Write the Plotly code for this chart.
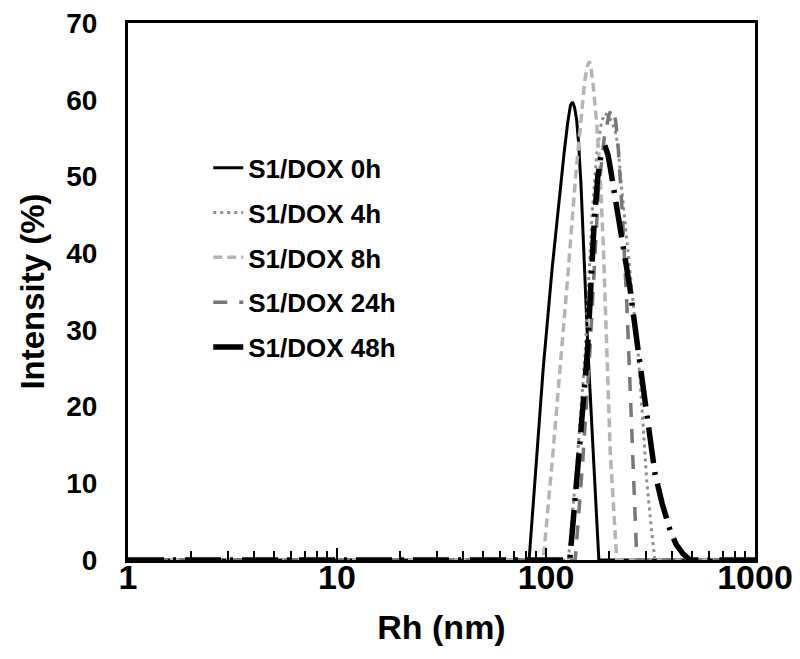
import plotly.graph_objects as go

# hydrodynamic radius (nm) and intensity (%)
size_0h = [1, 83, 90, 97, 107, 117, 122, 127, 131, 134, 137, 140, 143, 147, 153, 159, 169, 179, 1000]
int_0h = [0, 0, 13, 25, 38, 48.5, 53, 57, 59.3, 59.7, 59, 57.5, 54.6, 49, 38, 27, 13, 0, 0]

size_4h = [1, 128, 141, 154, 166, 175, 184, 191, 198, 206, 214, 221, 230, 245, 261, 276, 290, 303, 318, 332, 1000]
int_4h = [0, 0, 13, 27, 45, 53, 57, 58.2, 58, 57.2, 56, 54, 48.5, 41, 33.4, 27, 18.5, 10.5, 4.5, 0, 0]

size_8h = [1, 97, 108, 119, 128, 138, 148, 153, 157, 161, 164, 168, 174, 181, 188, 195, 203, 218, 1000]
int_8h = [0, 0, 14, 27.3, 38, 49.4, 59, 62.3, 64.2, 65, 64.3, 62, 57.5, 51, 41, 29, 14, 0, 0]

size_24h = [1, 138, 150, 162, 178, 190, 200, 206, 211, 216, 222, 232, 244, 256, 264, 272, 1000]
int_24h = [0, 0, 13, 27, 48, 55, 58, 58.8, 58.5, 57, 53.5, 45, 33, 18, 9, 0, 0]

size_48h = [1, 130, 144, 158, 170, 177, 183, 188, 193, 198, 204, 214, 226, 252, 276, 304, 332, 360, 392, 420, 453, 489, 1000]
int_48h = [0, 0, 14, 27.3, 44, 50, 52.6, 53.6, 53.7, 52.8, 50.8, 47.5, 43.3, 35.5, 27.3, 19, 11.3, 7.3, 3.9, 2, 0.8, 0, 0]

labels = ["S1/DOX 0h", "S1/DOX 4h", "S1/DOX 8h", "S1/DOX 24h", "S1/DOX 48h"]

FONT = "Liberation Sans, Arial, sans-serif"

styles = [
    dict(color="black", width=3, dash="solid"),
    dict(color="#8e8e8e", width=3, dash="3px,4px"),
    dict(color="#b5b5b5", width=3.5, dash="9px,5px"),
    dict(color="#777777", width=3.5, dash="14px,12px"),
    dict(color="black", width=5.5, dash="36px,9px,3px,9px"),
]

series = [
    (size_0h, int_0h), (size_4h, int_4h), (size_8h, int_8h),
    (size_24h, int_24h), (size_48h, int_48h),
]

fig = go.Figure()
for (xs, ys), name, st in zip(series, labels, styles):
    fig.add_trace(go.Scatter(
        x=xs, y=ys, mode="lines", name=name, legendgroup=name,
        line=dict(shape="linear", **st),
    ))

# page body has an 8px margin, so the figure is 8px smaller each way
fig.update_layout(
    width=792, height=651,
    template="simple_white",
    paper_bgcolor="white", plot_bgcolor="white",
    margin=dict(l=120, r=45, t=15, b=99),
    font=dict(family=FONT, color="black"),
    legend=dict(
        x=0.128, y=0.774, xanchor="left", yanchor="top",
        font=dict(family=FONT, size=26, weight="bold", color="black"),
        traceorder="grouped", tracegroupgap=8,
        bgcolor="rgba(0,0,0,0)", itemwidth=30,
    ),
    xaxis=dict(
        type="log", range=[0, 3], dtick=1, automargin=False,
        ticks="inside", ticklen=12, tickwidth=1.5, tickcolor="black",
        minor=dict(ticks="inside", ticklen=9, tickwidth=1.5, tickcolor="black",
                   dtick="D1", showgrid=False),
        showgrid=False, showline=True, linecolor="black", linewidth=3, mirror=True,
        tickfont=dict(family=FONT, size=34, weight="bold"),
        ticklabelstandoff=-15, ticklabeloverflow="allow",
        title=dict(text="Rh (nm)", font=dict(family=FONT, size=34, weight="bold"),
                   standoff=21),
    ),
    yaxis=dict(
        range=[0, 70], dtick=10, ticks="", automargin=False,
        showgrid=False, showline=True, linecolor="black", linewidth=3, mirror=True,
        tickfont=dict(family=FONT, size=28, weight="bold"),
        ticklabelstandoff=22, ticklabeloverflow="allow",
        title=dict(text="Intensity (%)", font=dict(family=FONT, size=33, weight="bold"),
                   standoff=12),
    ),
)

fig.write_html("out.html")
